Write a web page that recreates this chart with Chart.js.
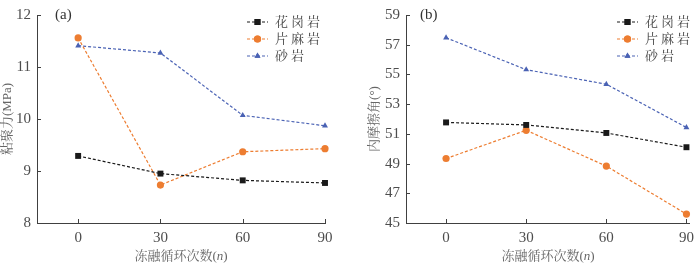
<!DOCTYPE html>
<html lang="zh">
<head>
<meta charset="UTF-8">
<title>冻融循环 粘聚力 内摩擦角</title>
<style>
  html, body { margin: 0; padding: 0; background: #fff; }
  .row { display: flex; width: 700px; height: 264px; }
  .row canvas { display: block; }
</style>
</head>
<body>
<div class="row">
  <canvas id="chartA" width="350" height="264"></canvas>
  <canvas id="chartB" width="350" height="264"></canvas>
</div>
<script src="https://cdn.jsdelivr.net/npm/chart.js"></script>
<script>
// data
const cycles = [0, 30, 60, 90];
const seriesNames = ['花岗岩', '片麻岩', '砂岩'];

const cohesionGranite = [9.29, 8.95, 8.82, 8.77];
const cohesionGneiss = [11.56, 8.73, 9.37, 9.43];
const cohesionSandstone = [11.41, 11.27, 10.07, 9.87];

const frictionGranite = [51.77, 51.60, 51.06, 50.10];
const frictionGneiss = [49.34, 51.24, 48.83, 45.60];
const frictionSandstone = [57.47, 55.32, 54.34, 51.43];

const cohesionTicks = [8, 9, 10, 11, 12];
const frictionTicks = [45, 47, 49, 51, 53, 55, 57, 59];

const colors = ['#1a1a1a', '#ed7d31', '#4a62b4'];
const markers = ['rect', 'circle', 'triangle'];
const markerSizes = [4.2, 3.6, 3.4];

const serif = '"Liberation Serif", "Times New Roman", "Noto Serif CJK SC", "Noto Sans CJK SC", serif';

function makeDatasets(values) {
    return values.map((vals, i) => ({
        label: seriesNames[i],
        data: cycles.map((c, j) => ({ x: c, y: vals[j] })),
        borderColor: colors[i],
        backgroundColor: colors[i],
        borderWidth: 1.2,
        borderDash: [3, 2],
        pointStyle: markers[i],
        pointRadius: markerSizes[i],
        pointBorderWidth: 0,
        tension: 0,
        clip: false
    }));
}

// inward tick marks, panel tag, legend and axis titles
const decorPlugin = {
    id: 'decor',
    afterDraw(chart, args, opts) {
        const ctx = chart.ctx;
        const area = chart.chartArea;
        const xs = chart.scales.x, ys = chart.scales.y;
        ctx.save();
        ctx.strokeStyle = '#404040';
        ctx.lineWidth = 1;
        ys.ticks.forEach(t => {
            const y = Math.round(ys.getPixelForValue(t.value)) + 0.5;
            ctx.beginPath(); ctx.moveTo(area.left, y); ctx.lineTo(area.left + 4, y); ctx.stroke();
        });
        xs.ticks.forEach(t => {
            const x = Math.round(xs.getPixelForValue(t.value)) + 0.5;
            ctx.beginPath(); ctx.moveTo(x, area.bottom); ctx.lineTo(x, area.bottom - 4); ctx.stroke();
        });

        // panel tag
        ctx.fillStyle = '#333';
        ctx.font = '15px ' + serif;
        ctx.textBaseline = 'middle';
        ctx.textAlign = 'left';
        ctx.fillText(opts.tag, opts.tagX, 15);

        // legend
        ctx.font = '13px ' + serif;
        ctx.letterSpacing = '3px';
        seriesNames.forEach((name, i) => {
            const y = opts.legendRows[i];
            ctx.strokeStyle = colors[i];
            ctx.lineWidth = 1.2;
            ctx.setLineDash([3, 2]);
            ctx.beginPath(); ctx.moveTo(opts.legendX, y); ctx.lineTo(opts.legendX + 21, y); ctx.stroke();
            ctx.setLineDash([]);
            ctx.fillStyle = colors[i];
            Chart.helpers.drawPoint(ctx, { pointStyle: markers[i], radius: markerSizes[i], borderWidth: 0 }, opts.legendX + 10.5, y);
            ctx.fill();
            ctx.fillStyle = '#444';
            ctx.fillText(name, opts.legendX + 28, y + 1);
        });
        ctx.letterSpacing = '0px';

        // x title with italic n
        ctx.fillStyle = '#666';
        const cx = (area.left + area.right) / 2;
        const p1 = '冻融循环次数(', p2 = 'n', p3 = ')';
        ctx.font = '13px ' + serif;
        const w1 = ctx.measureText(p1).width, w3 = ctx.measureText(p3).width;
        ctx.font = 'italic 13px ' + serif;
        const w2 = ctx.measureText(p2).width;
        let x = cx - (w1 + w2 + w3) / 2;
        ctx.font = '13px ' + serif;
        ctx.fillText(p1, x, 257);
        ctx.font = 'italic 13px ' + serif;
        ctx.fillText(p2, x + w1, 257);
        ctx.font = '13px ' + serif;
        ctx.fillText(p3, x + w1 + w2, 257);

        // y title
        ctx.translate(opts.yTitleX, (area.top + area.bottom) / 2);
        ctx.rotate(-Math.PI / 2);
        ctx.textAlign = 'center';
        ctx.fillText(opts.yTitle, 0, 0);
        ctx.restore();
    }
};

function makeChart(id, values, yTicks, cfg) {
    new Chart(document.getElementById(id), {
        type: 'line',
        data: { datasets: makeDatasets(values) },
        options: {
            responsive: false,
            animation: false,
            layout: { padding: { left: 0, top: 5, right: cfg.padRight, bottom: 0 } },
            plugins: {
                legend: { display: false },
                tooltip: { enabled: false },
                decor: cfg.decor
            },
            scales: {
                x: {
                    type: 'linear',
                    min: -15,
                    max: cfg.xMax,
                    afterBuildTicks: s => { s.ticks = cycles.map(v => ({ value: v })); },
                    afterFit: s => { s.height = 41; },
                    grid: { display: false, drawTicks: false },
                    border: { display: true, color: '#404040', width: 1 },
                    ticks: { color: '#4d4d4d', font: { family: serif, size: 15 }, padding: 6, maxRotation: 0 }
                },
                y: {
                    min: yTicks[0],
                    max: yTicks[yTicks.length - 1],
                    afterBuildTicks: s => { s.ticks = yTicks.map(v => ({ value: v })); },
                    afterFit: s => { s.width = cfg.yWidth; },
                    grid: { display: false, drawTicks: false },
                    border: { display: true, color: '#404040', width: 1 },
                    ticks: { color: '#4d4d4d', font: { family: serif, size: 15 }, padding: 6 }
                }
            }
        },
        plugins: [decorPlugin]
    });
}

makeChart('chartA', [cohesionGranite, cohesionGneiss, cohesionSandstone], cohesionTicks, {
    padRight: 25, xMax: 90, yWidth: 37,
    decor: { tag: '(a)', tagX: 55, legendX: 247, legendRows: [22, 39, 56], yTitle: '粘聚力(MPa)', yTitleX: 8 }
});
makeChart('chartB', [frictionGranite, frictionGneiss, frictionSandstone], frictionTicks, {
    padRight: 3, xMax: 91.3, yWidth: 56,
    decor: { tag: '(b)', tagX: 70, legendX: 267, legendRows: [22, 39, 56], yTitle: '内摩擦角(°)', yTitleX: 25 }
});
</script>
</body>
</html>
